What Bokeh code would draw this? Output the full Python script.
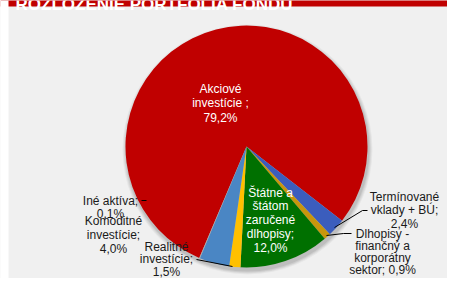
import numpy as np
from bokeh.plotting import figure
from bokeh.models import ColumnDataSource, Range1d
from bokeh.core.properties import value
from bokeh.embed import file_html
from bokeh.resources import INLINE

# ---------------- data ----------------
title = "ROZLOŽENIE PORTFÓLIA FONDU"
categories = [
    "Akciové investície",
    "Termínované vklady + BÚ",
    "Dlhopisy - finančný a korporátny sektor",
    "Štátne a štátom zaručené dlhopisy",
    "Realitné investície",
    "Komoditné investície",
    "Iné aktíva",
]
values = [79.2, 2.4, 0.9, 12.0, 1.5, 4.0, 0.1]
colors = ["#C00000", "#3B5DBD", "#C8960C", "#007000", "#FFC000", "#4A86C4", "#A5A5A5"]


def fmt(v):
    return f"{v:.1f}".replace(".", ",") + "%"


labels = [
    "Akciové\ninvestície ;\n" + fmt(values[0]),
    "Termínované\nvklady + BÚ;\n" + fmt(values[1]),
    "Dlhopisy -\nfinančný a\nkorporátny\nsektor; " + fmt(values[2]),
    "Štátne a\nštátom\nzaručené\ndlhopisy;\n" + fmt(values[3]),
    "Realitné\ninvestície;\n" + fmt(values[4]),
    "Komoditné\ninvestície;\n" + fmt(values[5]),
    "Iné aktíva;\n" + fmt(values[6]),
]

# ---------------- layout (pixel-like coordinates) ----------------
W, H = 447, 278


def dx(X):
    return X


def dy(Y):
    return H - Y


cx, cy, R = dx(246), dy(146), 121
first_angle = 203.0  # clockwise from 12 o'clock

vals = np.array(values, dtype=float)
frac = vals / vals.sum() * 360.0
ends_cw = first_angle + np.cumsum(frac)
starts_cw = ends_cw - frac
start_rad = np.deg2rad(90.0 - starts_cw)
end_rad = np.deg2rad(90.0 - ends_cw)

p = figure(width=W, height=H, output_backend="svg", toolbar_location=None,
           x_range=Range1d(0, W), y_range=Range1d(0, H), min_border=0)
p.axis.visible = False
p.grid.visible = False
p.outline_line_color = None
p.background_fill_color = "#F0F0F0"
p.border_fill_color = "#F0F0F0"

# title band
p.quad(left=[0], right=[W], bottom=[H - 6], top=[H + 20], fill_color="#C00000", line_color=None)
p.text(x=[dx(15)], y=[dy(4)], text=[title], text_font=value("Liberation Sans"),
       text_font_style="bold", text_font_size="17px", text_color="white",
       text_baseline="alphabetic", text_align="left")
# white strip at the left edge
p.quad(left=[-5], right=[8], bottom=[-5], top=[H + 5], fill_color="white", line_color=None)

# shadow
for r, a in [(125, 0.04), (124, 0.05), (123, 0.06), (122, 0.07)]:
    p.circle(x=[cx + 1], y=[cy - 3], radius=r, fill_color="#000000", fill_alpha=a, line_color=None)

src = ColumnDataSource(dict(cat=categories, val=values, color=colors,
                            start=start_rad, end=end_rad))
p.wedge(x=cx, y=cy, radius=R, start_angle="start", end_angle="end", direction="clock",
        fill_color="color", line_color=None, source=src)

# leader lines (window coords)
leaders = [
    [(334, 227), (362, 210), (367, 210)],
    [(326, 235), (343, 233), (351, 233)],
    [(232, 266), (196, 259)],
    [(141, 200), (146, 200)],
]
for pts in leaders:
    p.line([dx(a) for a, b in pts], [dy(b) for a, b in pts], line_color="#000000", line_width=1)

# label positions: centre x, first-line centre y, line step, text colour
label_pos = [
    (220, 88, 14.5, "white"),
    (404, 196, 13.5, "#1A1A1A"),
    (382, 233, 12.2, "#1A1A1A"),
    (270, 192, 13.9, "white"),
    (166, 246.5, 12.3, "#1A1A1A"),
    (113, 220, 14.2, "#1A1A1A"),
    (110, 200, 13.5, "#1A1A1A"),
]
xs, ys, ts, cs = [], [], [], []
for lab, (lx, ly, step, col) in zip(labels, label_pos):
    for i, line in enumerate(lab.split("\n")):
        xs.append(dx(lx))
        ys.append(dy(ly + i * step))
        ts.append(line)
        cs.append(col)
p.text(x=xs, y=ys, text=ts, text_color=cs, text_font=value("Liberation Sans"),
       text_font_size="12px", text_align="center", text_baseline="middle")

open("out.html", "w").write(file_html(p, INLINE))
